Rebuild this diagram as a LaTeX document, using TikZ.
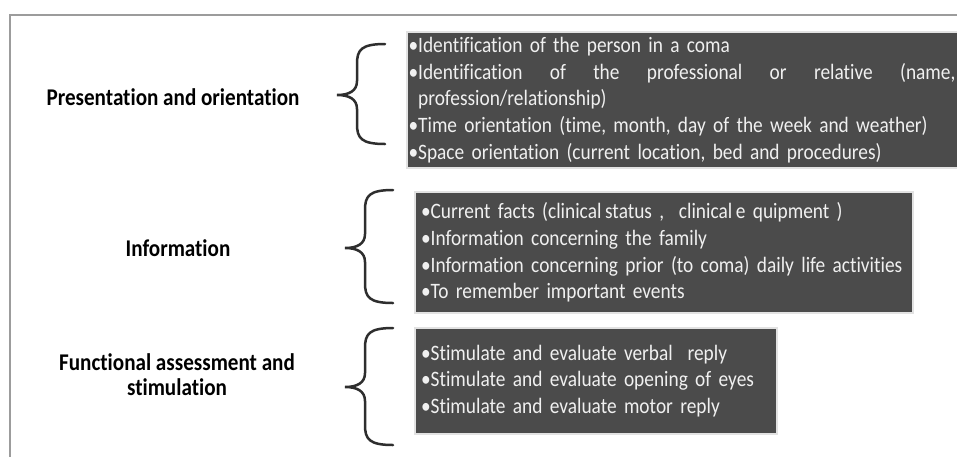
\documentclass[tikz,border=0pt]{standalone}
\usepackage{fontspec}
\setmainfont{Carlito}[FakeStretch=0.88, Ligatures=NoCommon]
\usetikzlibrary{positioning}

\definecolor{boxgray}{HTML}{4B4B4B}
\definecolor{boxedge}{HTML}{E2E2E2}
\definecolor{framegray}{HTML}{9C9C9C}
\definecolor{bracegray}{HTML}{2E2E2E}

\tikzset{
	itembox/.style={fill=boxgray, draw=boxedge, line width=2pt, text=white!94!black,
		align=left, inner ysep=0pt, font=\fontsize{22}{26.7}\selectfont},
	topic/.style={font=\bfseries\fontsize{24}{25}\selectfont, align=center},
	curly/.style={line width=2.5pt, draw=bracegray, line cap=round},
}

\begin{document}
\begin{tikzpicture}[x=1pt, y=-1pt]
	
	\clip (0,0) rectangle (957,456);
	\fill[white] (0,0) rectangle (957,456);
	
	% outer frame
	\draw[framegray, line width=1.6pt] (10,460) -- (10,15) -- (962,15);
	
	% topics
	\node[topic] (present) at (173,97) {Presentation and orientation};
	\node[topic] (inform) at (178,248) {Information};
	\node[topic] (funct) at (177,375) {Functional assessment and\\stimulation};
	
	% item boxes
	\node[itembox, inner xsep=2pt, text width=547pt, minimum height=136pt] (presitems) at (682,100) {%
		•Identification of the person in a coma\\
		\leavevmode\hbox to \hsize{•Identification\hfill of\hfill the\hfill professional\hfill or\hfill relative\hfill (name,}\\
		\phantom{•}profession/relationship)\\
		•Time orientation (time, month, day of the week and weather)\\
		•Space orientation (current location, bed and procedures)};
	\node[itembox, inner xsep=6pt, text width=486pt, minimum height=121pt] (infoitems) at (664,252.5) {%
		•Current facts (clinical\,status ,\ \ clinical\,e quipment )\\
		•Information concerning the family\\
		•Information concerning prior (to coma) daily life activities\\
		•To remember important events};
	\node[itembox, inner xsep=6pt, text width=350pt, minimum height=106pt] (functitems) at (596,381) {%
		•Stimulate and evaluate verbal\ \ reply\\
		•Stimulate and evaluate opening of eyes\\
		•Stimulate and evaluate motor reply};
	
	% braces
	\foreach \xr/\yt/\ym/\yb in {385/44/95/144, 393/190/248/303, 393/328/387/445}
		\draw[curly] (\xr,\yt) .. controls ({\xr-24},\yt) and ({\xr-28},{\yt+6}) .. ({\xr-28},{\yt+20})
			-- ({\xr-28},{\ym-14}) .. controls ({\xr-28},{\ym-4}) and ({\xr-36},\ym) .. ({\xr-48},\ym)
			.. controls ({\xr-36},\ym) and ({\xr-28},{\ym+4}) .. ({\xr-28},{\ym+14})
			-- ({\xr-28},{\yb-20}) .. controls ({\xr-28},{\yb-6}) and ({\xr-24},\yb) .. (\xr,\yb);
	
\end{tikzpicture}
\end{document}
